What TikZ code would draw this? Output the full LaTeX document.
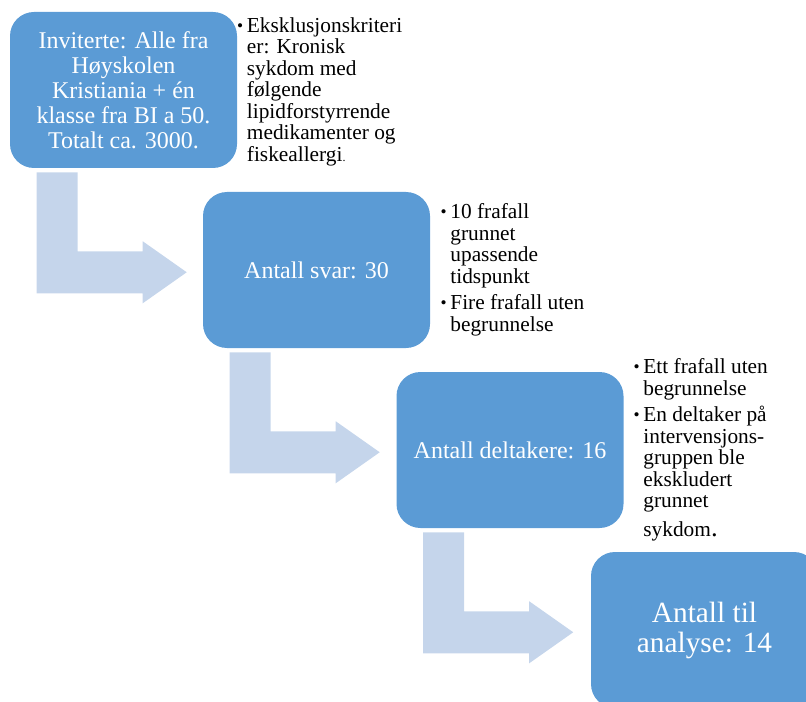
\documentclass[tikz,border=0pt]{standalone}
\usepackage{fontspec}
\setmainfont{Liberation Serif}
\definecolor{boksblaa}{RGB}{91,155,213}
\definecolor{pilblaa}{RGB}{197,213,235}
\newcommand{\pkt}{\makebox[8pt][l]{\hspace*{0.6pt}\raisebox{1pt}{\fontsize{13}{13}\selectfont\textbullet}}}
\newcommand{\inn}{\hspace*{8pt}}

\begin{document}
\begin{tikzpicture}[x=0.75pt, y=-0.75pt]
            \tikzstyle{boks} = [fill=boksblaa, rounded corners=18pt, inner sep=0pt,
                minimum width=170.25pt, minimum height=117pt, text=white,
                align=center, font=\fontsize{18}{18.75}\selectfont]
            \tikzstyle{notat} = [anchor=north west, inner sep=0pt, align=left,
                font=\fontsize{16}{16.1}\selectfont]
            \tikzstyle{pil} = [fill=pilblaa]
            \useasboundingbox (0, 0) rectangle (806, 702);
            \clip (0, 0) rectangle (806, 702);

            \node[boks] (inviterte) at (123.5, 90)
                {Inviterte: Alle fra\\Høyskolen\\Kristiania + én\\klasse fra BI a 50.\\Totalt ca. 3000.};
            \node[boks] (svar) at (316.5, 270) {Antall svar: 30};
            \node[boks] (deltakere) at (510, 450) {Antall deltakere: 16};
            \node[boks, font=\fontsize{22}{22.5}\selectfont] (analyse) at (704.5, 630)
                {Antall til\\analyse: 14};

            \node[notat] (eksklusjon) at (236, 17.4)
                {\pkt Eksklusjonskriteri\\\inn er: Kronisk\\\inn sykdom med\\\inn følgende\\\inn lipidforstyrrende\\\inn medikamenter og\\\inn fiskeallergi{\fontsize{9}{9}\selectfont .}};
            \node[notat] (frafallsvar) at (439.5, 203.4)
                {\pkt 10 frafall\\\inn grunnet\\\inn upassende\\\inn tidspunkt\\[4pt]\pkt Fire frafall uten\\\inn begrunnelse};
            \node[notat] (frafalldeltakere) at (632.5, 358.4)
                {\pkt Ett frafall uten\\\inn begrunnelse\\[4pt]\pkt En deltaker på\\\inn intervensjons-\\\inn gruppen ble\\\inn ekskludert\\\inn grunnet\\[5.5pt]\inn sykdom{\fontsize{20}{20}\selectfont .}};

            % bent block arrows below each box
            \foreach \fra in {inviterte, svar, deltakere}
                \fill[pil, shift={(\fra.south west)}] (27, 4) -- (68, 4) -- (68, 83)
                    -- (133, 83) -- (133, 73) -- (177, 104) -- (133, 135)
                    -- (133, 125) -- (27, 125) -- cycle;
\end{tikzpicture}
\end{document}
